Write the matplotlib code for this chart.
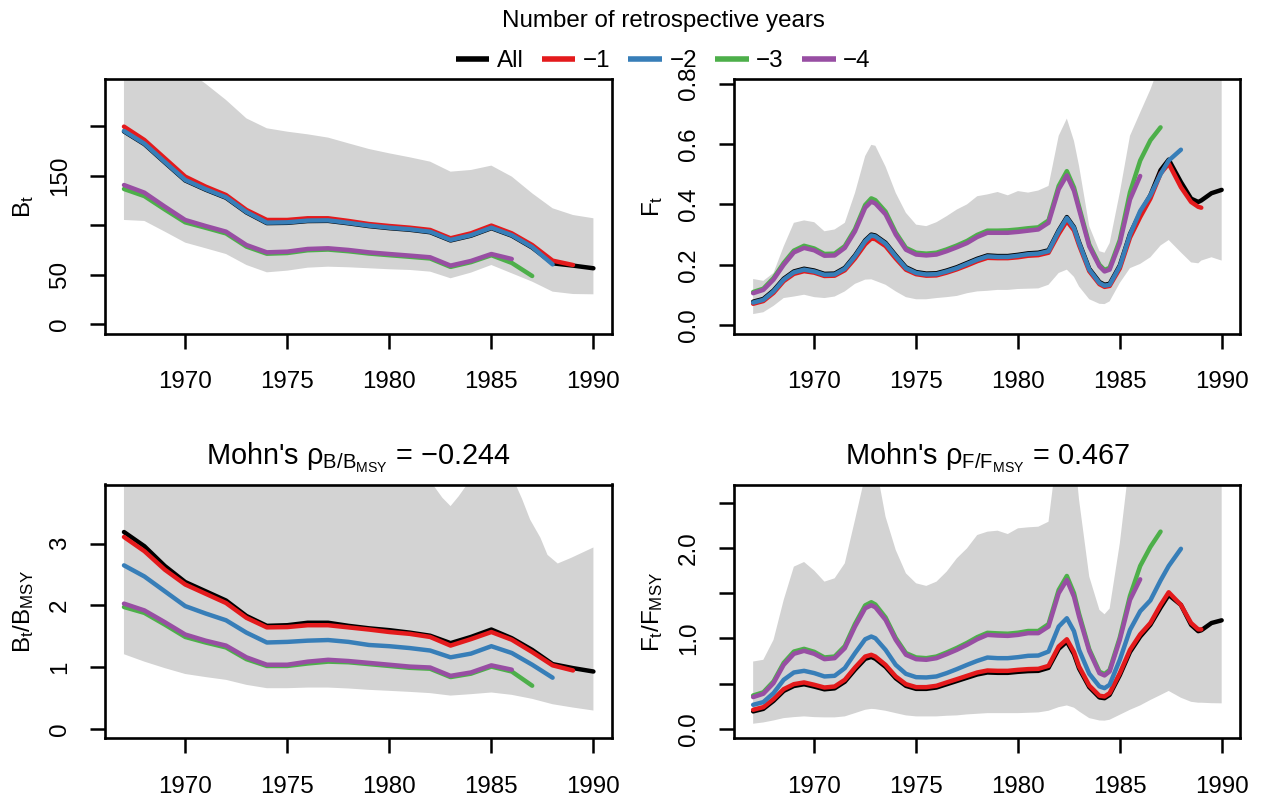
import matplotlib
matplotlib.use("Agg")
import matplotlib.pyplot as plt
from matplotlib.lines import Line2D

plt.rcParams['font.family'] = ['Liberation Sans', 'DejaVu Sans']
plt.rcParams['mathtext.fontset'] = 'custom'
plt.rcParams['mathtext.rm'] = 'Liberation Sans'
plt.rcParams['mathtext.it'] = 'Liberation Sans:italic'
plt.rcParams['mathtext.bf'] = 'Liberation Sans:bold'

# ---------------------------------------------------------------- data
RUN_LABELS = ['All', '\u22121', '\u22122', '\u22123', '\u22124']
RUN_COLORS = ['black', '#E41A1C', '#377EB8', '#4DAF4A', '#984EA3']
BAND_COLOR = '#D3D3D3'

YEARS = list(range(1967, 1991))
XTICKS = [1970, 1975, 1980, 1985, 1990]

# Biomass B_t (yearly)
B_ALL = [194.8, 182.0, 163.5, 145.3, 136.0, 127.8, 113.0, 102.2, 102.5, 104.3, 104.5, 102.0,
         99.2, 97.1, 95.5, 93.0, 84.7, 89.5, 97.1, 89.5, 77.5, 61.6, 59.3, 56.6]
B_M1 = [199.7, 186.2, 167.7, 149.2, 139.1, 130.6, 115.5, 105.4, 105.4, 107.1, 107.1, 104.4,
        101.3, 99.3, 97.6, 95.3, 86.9, 91.9, 99.7, 91.9, 80.1, 64.3, 59.9]
B_M2 = [195.3, 182.5, 164.0, 145.8, 136.5, 128.3, 113.5, 102.7, 103.0, 104.8, 105.0, 102.5,
        99.7, 97.6, 96.0, 93.5, 85.2, 90.0, 97.6, 90.0, 78.0, 60.5]
B_M3 = [136.7, 129.5, 116.0, 103.0, 97.5, 91.8, 78.5, 71.3, 72.0, 74.8, 75.5, 73.8,
        71.5, 69.8, 68.2, 66.5, 58.0, 62.8, 69.8, 62.0, 48.8]
B_M4 = [140.7, 133.0, 118.9, 105.4, 99.3, 93.6, 80.1, 72.7, 73.4, 76.1, 76.8, 75.1,
        72.7, 71.0, 69.4, 67.7, 59.3, 64.0, 71.0, 66.0]
B_HI = [290, 280, 268, 258, 243, 226.6, 208, 198, 194.6, 191.9, 188.6, 182.8,
        177.1, 172.7, 168.7, 164.3, 154.2, 155.9, 160.3, 149.2, 132.3, 117.2, 110.4, 107.1]
B_LO = [105.4, 104.4, 93.6, 82.5, 76.8, 71.0, 59.9, 52.5, 54.2, 57.2, 58.2, 57.6,
        56.6, 55.6, 54.9, 53.2, 46.5, 52.2, 59.9, 51.5, 43.1, 33.0, 30.6, 30.3]

# Relative biomass B_t/B_MSY (yearly)
BB_ALL = [3.19, 2.96, 2.64, 2.38, 2.23, 2.08, 1.83, 1.67, 1.68, 1.72, 1.72, 1.67,
          1.63, 1.60, 1.56, 1.51, 1.39, 1.49, 1.61, 1.47, 1.28, 1.05, 0.985, 0.93]
BB_M1 = [3.11, 2.88, 2.58, 2.34, 2.19, 2.04, 1.80, 1.645, 1.65, 1.68, 1.68, 1.645,
         1.61, 1.57, 1.54, 1.49, 1.35, 1.455, 1.57, 1.445, 1.245, 1.03, 0.947]
BB_M2 = [2.65, 2.47, 2.23, 1.99, 1.87, 1.76, 1.56, 1.40, 1.41, 1.43, 1.44, 1.41,
         1.36, 1.34, 1.31, 1.27, 1.16, 1.22, 1.34, 1.23, 1.04, 0.83]
BB_M3 = [1.975, 1.88, 1.69, 1.49, 1.40, 1.32, 1.13, 1.02, 1.02, 1.06, 1.09, 1.08,
         1.05, 1.02, 0.99, 0.975, 0.84, 0.895, 1.01, 0.93, 0.70]
BB_M4 = [2.03, 1.92, 1.73, 1.53, 1.43, 1.35, 1.16, 1.04, 1.04, 1.09, 1.12, 1.10,
         1.07, 1.04, 1.01, 0.995, 0.86, 0.915, 1.03, 0.96]
BB_HI_T = [1967, 1968, 1969, 1970, 1971, 1972, 1973, 1974, 1975, 1976, 1977, 1978,
           1979, 1980, 1981, 1982, 1982.6, 1983, 1983.4, 1984, 1985, 1986, 1986.5,
           1986.9, 1987.4, 1987.75, 1988.25, 1988.9, 1990]
BB_HI = [7.0, 6.6, 6.1, 5.6, 5.3, 5.0, 4.6, 4.4, 4.4, 4.45, 4.45, 4.35,
         4.25, 4.2, 4.1, 4.02, 3.745, 3.61, 3.77, 4.05, 4.3, 4.1, 3.73,
         3.39, 3.10, 2.82, 2.68, 2.77, 2.94]
BB_LO = [1.21, 1.09, 0.985, 0.89, 0.84, 0.795, 0.714, 0.66, 0.66, 0.67, 0.67, 0.655,
         0.633, 0.617, 0.60, 0.58, 0.54, 0.563, 0.59, 0.552, 0.487, 0.40, 0.346, 0.298]

# Fishing mortality: sub-annual time points
TF = [1967, 1967.5, 1968, 1968.5, 1969, 1969.5, 1970, 1970.5, 1971, 1971.5,
      1972, 1972.5, 1972.8, 1973, 1973.5, 1974, 1974.5, 1975, 1975.5, 1976,
      1976.5, 1977, 1977.5, 1978, 1978.5, 1979, 1979.5, 1980, 1980.5, 1981,
      1981.5, 1982, 1982.4, 1982.75, 1983, 1983.5, 1984, 1984.25, 1984.5, 1985,
      1985.5, 1986, 1986.5, 1987, 1987.4, 1988, 1988.5, 1988.85, 1989, 1989.5, 1990]

F_ALL = [0.078, 0.087, 0.115, 0.154, 0.178, 0.187, 0.181, 0.170, 0.171, 0.190,
         0.231, 0.281, 0.300, 0.297, 0.273, 0.231, 0.192, 0.176, 0.171, 0.172,
         0.181, 0.192, 0.206, 0.220, 0.231, 0.229, 0.229, 0.233, 0.238, 0.240,
         0.248, 0.314, 0.358, 0.325, 0.275, 0.187, 0.143, 0.134, 0.137, 0.198,
         0.302, 0.372, 0.430, 0.513, 0.548, 0.474, 0.419, 0.408, 0.413, 0.437, 0.448]
F_M1 = [0.071, 0.080, 0.107, 0.146, 0.170, 0.179, 0.174, 0.163, 0.164, 0.182,
        0.221, 0.268, 0.287, 0.285, 0.262, 0.221, 0.184, 0.169, 0.164, 0.165,
        0.174, 0.185, 0.198, 0.212, 0.223, 0.222, 0.222, 0.225, 0.230, 0.232,
        0.240, 0.302, 0.345, 0.314, 0.265, 0.179, 0.136, 0.127, 0.130, 0.188,
        0.290, 0.358, 0.419, 0.502, 0.535, 0.457, 0.408, 0.392, 0.389]
F_M2 = [0.075, 0.084, 0.112, 0.151, 0.175, 0.184, 0.178, 0.167, 0.168, 0.187,
        0.228, 0.278, 0.297, 0.294, 0.270, 0.228, 0.189, 0.173, 0.168, 0.169,
        0.178, 0.189, 0.203, 0.217, 0.228, 0.226, 0.226, 0.230, 0.235, 0.237,
        0.245, 0.311, 0.355, 0.322, 0.272, 0.184, 0.140, 0.131, 0.134, 0.195,
        0.300, 0.378, 0.430, 0.500, 0.545, 0.581]
F_M3 = [0.110, 0.121, 0.156, 0.206, 0.247, 0.263, 0.254, 0.236, 0.237, 0.262,
        0.318, 0.398, 0.420, 0.414, 0.376, 0.307, 0.256, 0.240, 0.237, 0.240,
        0.251, 0.264, 0.279, 0.299, 0.313, 0.313, 0.314, 0.317, 0.321, 0.324,
        0.347, 0.461, 0.510, 0.456, 0.392, 0.267, 0.200, 0.183, 0.190, 0.282,
        0.440, 0.545, 0.612, 0.655]
F_M4 = [0.106, 0.117, 0.151, 0.200, 0.241, 0.256, 0.248, 0.230, 0.231, 0.256,
        0.311, 0.389, 0.409, 0.403, 0.367, 0.300, 0.250, 0.234, 0.231, 0.234,
        0.245, 0.258, 0.272, 0.292, 0.306, 0.306, 0.306, 0.309, 0.313, 0.317,
        0.339, 0.450, 0.496, 0.445, 0.383, 0.261, 0.195, 0.178, 0.184, 0.272,
        0.416, 0.494]
F_HI = [0.153, 0.147, 0.173, 0.261, 0.339, 0.347, 0.341, 0.311, 0.317, 0.339,
        0.438, 0.560, 0.597, 0.594, 0.525, 0.438, 0.372, 0.333, 0.328, 0.341,
        0.361, 0.383, 0.400, 0.427, 0.433, 0.441, 0.430, 0.444, 0.439, 0.446,
        0.461, 0.627, 0.684, 0.610, 0.527, 0.328, 0.245, 0.240, 0.272, 0.439,
        0.627, 0.704, 0.780, 0.870, 0.950, 1.00, 1.05, 1.05, 1.05, 1.08, 1.10]
F_LO = [0.037, 0.043, 0.064, 0.090, 0.095, 0.101, 0.093, 0.090, 0.095, 0.112,
        0.137, 0.151, 0.152, 0.147, 0.134, 0.112, 0.093, 0.086, 0.086, 0.090,
        0.093, 0.097, 0.106, 0.112, 0.114, 0.117, 0.117, 0.120, 0.121, 0.122,
        0.134, 0.173, 0.184, 0.160, 0.128, 0.086, 0.071, 0.070, 0.079, 0.140,
        0.189, 0.203, 0.225, 0.264, 0.282, 0.241, 0.208, 0.205, 0.214, 0.225, 0.214]

# Relative fishing mortality F_t/F_MSY
FF_ALL = [0.194, 0.222, 0.310, 0.420, 0.475, 0.494, 0.468, 0.438, 0.449, 0.522,
          0.655, 0.775, 0.795, 0.776, 0.686, 0.560, 0.476, 0.443, 0.443, 0.458,
          0.494, 0.530, 0.566, 0.602, 0.624, 0.620, 0.620, 0.631, 0.639, 0.642,
          0.675, 0.885, 0.965, 0.826, 0.668, 0.462, 0.348, 0.340, 0.377, 0.594,
          0.850, 1.020, 1.150, 1.340, 1.480, 1.370, 1.150, 1.080, 1.090, 1.170, 1.200]
FF_M1 = [0.212, 0.241, 0.330, 0.440, 0.495, 0.514, 0.488, 0.458, 0.469, 0.543,
         0.679, 0.800, 0.819, 0.800, 0.708, 0.580, 0.495, 0.462, 0.462, 0.477,
         0.514, 0.550, 0.587, 0.624, 0.646, 0.642, 0.642, 0.653, 0.661, 0.664,
         0.697, 0.911, 0.991, 0.850, 0.690, 0.480, 0.367, 0.359, 0.396, 0.616,
         0.874, 1.045, 1.170, 1.370, 1.510, 1.370, 1.170, 1.100, 1.100]
FF_M2 = [0.267, 0.297, 0.396, 0.543, 0.624, 0.642, 0.617, 0.580, 0.587, 0.672,
         0.837, 0.991, 1.021, 1.002, 0.874, 0.708, 0.609, 0.572, 0.569, 0.580,
         0.617, 0.661, 0.708, 0.752, 0.789, 0.782, 0.782, 0.793, 0.808, 0.811,
         0.855, 1.131, 1.223, 1.080, 0.874, 0.610, 0.470, 0.451, 0.488, 0.764,
         1.094, 1.300, 1.420, 1.640, 1.800, 1.990]
FF_M3 = [0.370, 0.405, 0.525, 0.730, 0.855, 0.885, 0.852, 0.790, 0.800, 0.915,
         1.160, 1.365, 1.400, 1.375, 1.232, 1.005, 0.838, 0.790, 0.782, 0.800,
         0.845, 0.895, 0.951, 1.014, 1.062, 1.056, 1.052, 1.063, 1.082, 1.082,
         1.158, 1.535, 1.690, 1.500, 1.272, 0.880, 0.632, 0.606, 0.652, 1.010,
         1.470, 1.800, 2.010, 2.180]
FF_M4 = [0.352, 0.389, 0.506, 0.708, 0.830, 0.863, 0.830, 0.771, 0.782, 0.892,
         1.131, 1.333, 1.366, 1.344, 1.205, 0.984, 0.819, 0.771, 0.764, 0.782,
         0.826, 0.874, 0.929, 0.991, 1.039, 1.032, 1.028, 1.039, 1.058, 1.058,
         1.131, 1.499, 1.646, 1.460, 1.241, 0.860, 0.616, 0.591, 0.635, 0.984,
         1.425, 1.653]
FF_HI = [0.745, 0.764, 0.984, 1.425, 1.793, 1.844, 1.749, 1.627, 1.664, 1.830,
         2.308, 2.800, 3.000, 2.950, 2.344, 1.977, 1.719, 1.609, 1.580, 1.627,
         1.738, 1.885, 1.995, 2.142, 2.179, 2.190, 2.153, 2.216, 2.227, 2.234,
         2.289, 3.200, 3.600, 3.100, 2.530, 1.683, 1.315, 1.267, 1.330, 2.050,
         3.000, 3.600, 3.800, 4.000, 4.000, 3.900, 3.800, 3.700, 3.700, 3.600, 3.600]
FF_LO = [0.058, 0.072, 0.094, 0.120, 0.131, 0.139, 0.131, 0.128, 0.128, 0.139,
         0.175, 0.212, 0.222, 0.219, 0.201, 0.175, 0.150, 0.139, 0.139, 0.139,
         0.146, 0.150, 0.161, 0.168, 0.175, 0.175, 0.175, 0.175, 0.179, 0.183,
         0.201, 0.241, 0.260, 0.235, 0.194, 0.120, 0.094, 0.092, 0.102, 0.157,
         0.212, 0.260, 0.320, 0.375, 0.420, 0.345, 0.300, 0.290, 0.290, 0.285, 0.283]

RHO_B = -0.244
RHO_F = 0.467

# ---------------------------------------------------------------- layout
W, H = 1261, 798
fig = plt.figure(figsize=(W / 100, H / 100), dpi=100)


def add_box(x0, x1, ytop, ybot):
    return fig.add_axes([x0 / W, 1 - ybot / H, (x1 - x0) / W, (ybot - ytop) / H])


FS = 17.4


def draw_panel(ax, t, runs, t_hi, hi, t_lo, lo, ylim, yticks, ylabels, ylabel):
    ax.fill(list(t_lo) + list(t_hi)[::-1], list(lo) + list(hi)[::-1],
            color=BAND_COLOR, lw=0, zorder=1)
    for vals, col in zip(runs, RUN_COLORS):
        ax.plot(t[:len(vals)], vals, color=col, lw=3.2,
                solid_capstyle='round', solid_joinstyle='round', zorder=2)
    ax.set_xlim(1966.08, 1990.92)
    ax.set_ylim(*ylim)
    ax.set_xticks(XTICKS)
    ax.set_xticklabels([str(x) for x in XTICKS])
    ax.set_yticks(yticks)
    ax.set_yticklabels(ylabels, rotation=90, va='center')
    ax.tick_params(length=10.8, width=1.8, labelsize=FS)
    ax.tick_params(axis='x', pad=16)
    ax.tick_params(axis='y', pad=14)
    for s in ax.spines.values():
        s.set_linewidth(1.9)
    ax.set_ylabel(ylabel, fontsize=FS)
    ax.yaxis.set_label_coords(-0.137, 0.5)


ax_b = add_box(105.2, 612.2, 79, 334)
ax_f = add_box(734.4, 1240.4, 79, 334)
ax_bb = add_box(105.2, 612.2, 484.5, 738.3)
ax_ff = add_box(734.4, 1240.4, 484.5, 738.3)

draw_panel(ax_b, YEARS, [B_ALL, B_M1, B_M2, B_M3, B_M4], YEARS, B_HI, YEARS, B_LO,
           (-9.8, 247.8), [0, 50, 100, 150, 200], ['0', '50', '', '150', ''],
           r'B$_\mathregular{t}$')
draw_panel(ax_f, TF, [F_ALL, F_M1, F_M2, F_M3, F_M4], TF, F_HI, TF, F_LO,
           (-0.029, 0.815), [0.0, 0.2, 0.4, 0.6, 0.8], ['0.0', '0.2', '0.4', '0.6', '0.8'],
           r'F$_\mathregular{t}$')
draw_panel(ax_bb, YEARS, [BB_ALL, BB_M1, BB_M2, BB_M3, BB_M4], BB_HI_T, BB_HI, YEARS, BB_LO,
           (-0.152, 3.96), [0, 1, 2, 3], ['0', '1', '2', '3'],
           r'B$_\mathregular{t}$/B$_\mathregular{MSY}$')
draw_panel(ax_ff, TF, [FF_ALL, FF_M1, FF_M2, FF_M3, FF_M4], TF, FF_HI, TF, FF_LO,
           (-0.103, 2.70), [0.0, 0.5, 1.0, 1.5, 2.0, 2.5], ['0.0', '', '1.0', '', '2.0', ''],
           r'F$_\mathregular{t}$/F$_\mathregular{MSY}$')

# Mohn's rho titles
title_y = 1 + (484.5 - 465) / (738.3 - 484.5)
ax_bb.text(0.5, title_y,
           "Mohn's \u03c1$_{\\mathregular{B/B_{MSY}}}$ = " + f"{RHO_B:.3f}".replace('-', '\u2212'),
           transform=ax_bb.transAxes, ha='center', va='baseline', fontsize=20.8)
ax_ff.text(0.5, title_y,
           "Mohn's \u03c1$_{\\mathregular{F/F_{MSY}}}$ = " + f"{RHO_F:.3f}".replace('-', '\u2212'),
           transform=ax_ff.transAxes, ha='center', va='baseline', fontsize=20.8)

# legend
handles = [Line2D([], [], color=c, lw=4.0, solid_capstyle='butt') for c in RUN_COLORS]
fig.legend(handles, RUN_LABELS, loc='upper center', bbox_to_anchor=(663 / W, 1 - 10 / H),
           ncol=5, frameon=False, title='Number of retrospective years',
           fontsize=FS, title_fontsize=FS, handlelength=1.4, handletextpad=0.3,
           columnspacing=0.75, borderpad=0, borderaxespad=0, labelspacing=0.75)

fig.savefig('out.png', dpi=100)
